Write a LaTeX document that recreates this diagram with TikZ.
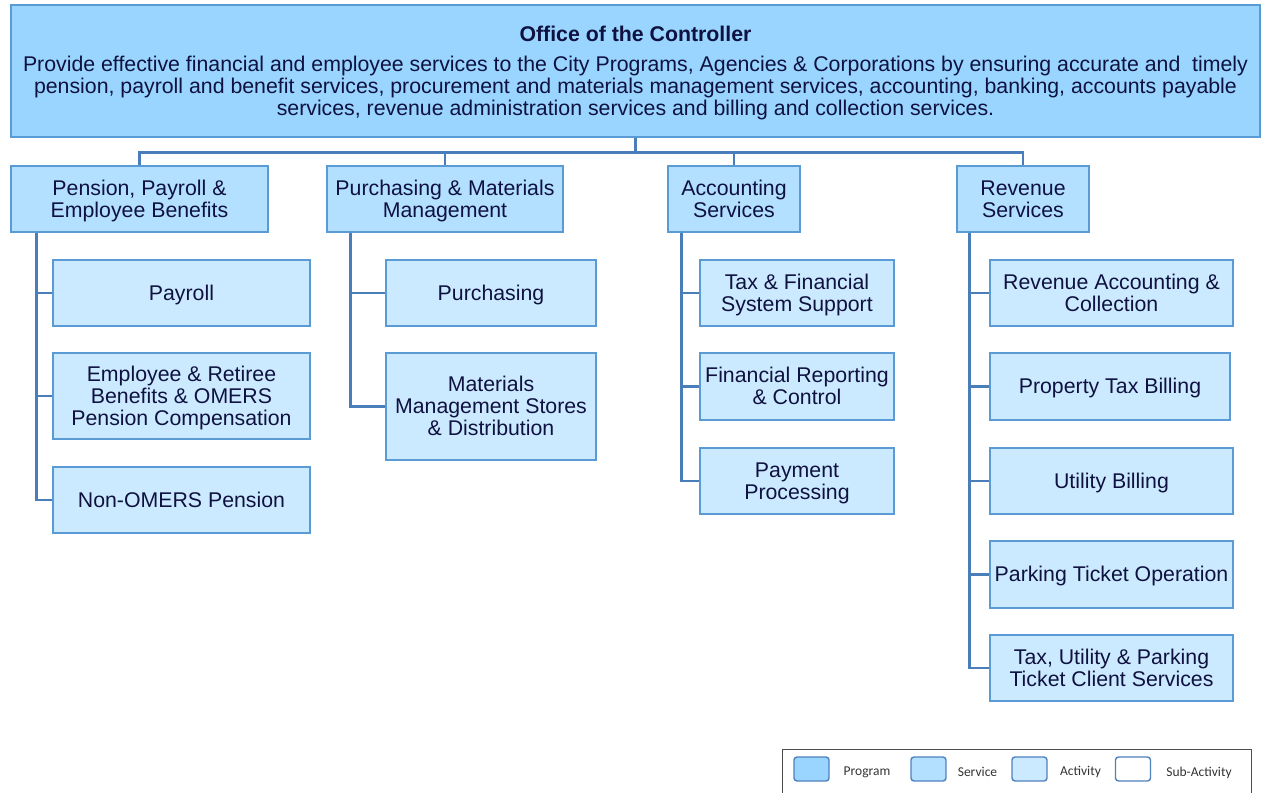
\documentclass[tikz,border=0pt]{standalone}
\usepackage{fontspec}
\setmainfont{Liberation Sans}
\newfontfamily\legendfont{Carlito}
\usetikzlibrary{calc}
\definecolor{progfill}{HTML}{99D5FF}
\definecolor{svcfill}{HTML}{B3E0FF}
\definecolor{actfill}{HTML}{CCEAFF}
\definecolor{boxline}{HTML}{5B9BD5}
\definecolor{connline}{HTML}{4A7EBB}
\definecolor{navy}{HTML}{0F1240}
\definecolor{legline}{HTML}{4F81BD}
\newcommand\tsA{\rule{0pt}{19.3pt}}
\newcommand\tsB{\rule[-4.5pt]{0pt}{4.5pt}}
\tikzset{
  box/.style={draw=boxline, line width=1.8pt, rectangle, inner sep=0pt, align=center,
    text=navy, font=\fontsize{21.3}{22}\selectfont, execute at end node=\tsB},
  progbox/.style={box, fill=progfill},
  svcbox/.style={box, fill=svcfill},
  actbox/.style={box, fill=actfill},
  conn/.style={draw=connline, line width=2.8pt},
  swatch/.style={draw=legline, line width=1.4pt, rounded corners=3pt, minimum width=35pt, minimum height=24pt, inner sep=0pt},
  legtext/.style={text=black!80, font=\legendfont\fontsize{13.5}{15}\selectfont, inner sep=0pt}
}
\begin{document}
\begin{tikzpicture}[x=1pt,y=-1pt]
\useasboundingbox (0,0) rectangle (1262,793);
% top
\node[progbox, minimum width=1249pt, minimum height=132pt] (top) at (635.5,71)
  {\tsA{\bfseries Office of the Controller}\\[8pt]
   Provide effective financial and employee services to the City Programs, Agencies \& Corporations by ensuring accurate and\ \ timely\\
   pension, payroll and benefit services, procurement and materials management services, accounting, banking, accounts payable\\
   services, revenue administration services and billing and collection services.};
% services
\node[svcbox, minimum width=257pt, minimum height=66pt] (ppeb) at (139.5,199) {\tsA Pension, Payroll \&\\Employee Benefits};
\node[svcbox, minimum width=236pt, minimum height=66pt] (pmm) at (445,199) {\tsA Purchasing \& Materials\\Management};
\node[svcbox, minimum width=132pt, minimum height=66pt] (acc) at (734,199) {\tsA Accounting\\Services};
\node[svcbox, minimum width=132pt, minimum height=66pt] (rev) at (1023,199) {\tsA Revenue\\Services};
% column 1
\node[actbox, minimum width=257pt, minimum height=66pt] (payroll) at (181.5,293) {\tsA Payroll};
\node[actbox, minimum width=257pt, minimum height=86pt] (emp) at (181.5,396) {\tsA Employee \& Retiree\\Benefits \& OMERS\\Pension Compensation};
\node[actbox, minimum width=257pt, minimum height=66pt] (nonomers) at (181.5,500) {\tsA Non-OMERS Pension};
% column 2
\node[actbox, minimum width=210pt, minimum height=66pt] (purch) at (491,293) {\tsA Purchasing};
\node[actbox, minimum width=210pt, minimum height=107pt] (mat) at (491,406.5) {\tsA Materials\\Management Stores\\\& Distribution};
% column 3
\node[actbox, minimum width=194pt, minimum height=66pt] (tax) at (797,293) {\tsA Tax \& Financial\\System Support};
\node[actbox, minimum width=194pt, minimum height=67pt] (fin) at (797,386.5) {\tsA Financial Reporting\\\& Control};
\node[actbox, minimum width=194pt, minimum height=66pt] (pay) at (797,481) {\tsA Payment\\Processing};
% column 4
\node[actbox, minimum width=243pt, minimum height=66pt] (revacc) at (1111.5,293) {\tsA Revenue Accounting \&\\Collection};
\node[actbox, minimum width=240pt, minimum height=67pt] (prop) at (1110,386.5) {\tsA Property Tax Billing};
\node[actbox, minimum width=243pt, minimum height=66pt] (util) at (1111.5,481) {\tsA Utility Billing};
\node[actbox, minimum width=243pt, minimum height=67pt] (park) at (1111.5,574.5) {\tsA Parking Ticket Operation};
\node[actbox, minimum width=243pt, minimum height=66pt] (client) at (1111.5,668) {\tsA Tax, Utility \& Parking\\Ticket Client Services};
% connectors top
\coordinate (bus) at ($(top.south)+(0,14.5)$);
\foreach \n in {ppeb,pmm,acc,rev}{
  \draw[conn] (top.south) -- (bus) -| (\n.north);
}
% connectors children
\foreach \n in {payroll,emp,nonomers}{
  \draw[conn] ([xshift=26pt]ppeb.south west) |- (\n.west);
}
\foreach \n in {purch,mat}{
  \draw[conn] ([xshift=24pt]pmm.south west) |- (\n.west);
}
\foreach \n in {tax,fin,pay}{
  \draw[conn] ([xshift=14pt]acc.south west) |- (\n.west);
}
\foreach \n in {revacc,prop,util,park,client}{
  \draw[conn] ([xshift=13pt]rev.south west) |- (\n.west);
}
% legend
\node[draw=black!70, line width=0.8pt, minimum width=469pt, minimum height=50pt, inner sep=0pt, anchor=north west] (legend) at (782,749) {};
\node[swatch, fill=progfill] (sw1) at (811.5,769) {};
\node[legtext] (lt1) at (867,772) {Program};
\node[swatch, fill=svcfill] (sw2) at (928.5,769) {};
\node[legtext] (lt2) at (977.5,772) {Service};
\node[swatch, fill=actfill] (sw3) at (1029.5,769) {};
\node[legtext] (lt3) at (1080.5,772) {Activity};
\node[swatch, fill=white] (sw4) at (1133,769) {};
\node[legtext] (lt4) at (1199,773) {Sub-Activity};
\end{tikzpicture}
\end{document}
